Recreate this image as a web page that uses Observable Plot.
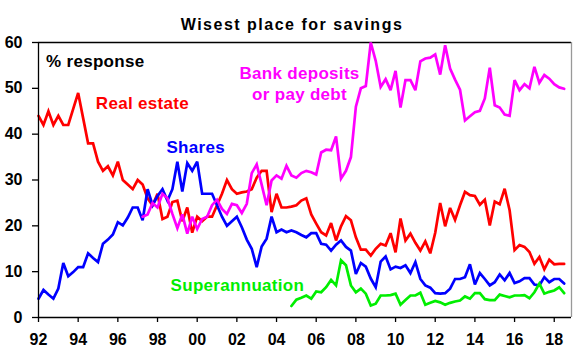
<!DOCTYPE html>
<html><head><meta charset="utf-8">
<script src="https://cdn.jsdelivr.net/npm/d3@7"></script>
<script src="https://cdn.jsdelivr.net/npm/@observablehq/plot@0.6"></script>
<style>body{margin:0;background:#fff}svg{display:block}
.ttl text{letter-spacing:1.5px}
.lbl text{letter-spacing:0.3px}</style>
</head><body><div id="chart"></div>
<script>
// quarterly survey readings, % response
const realEstateStart = 1992;
const realEstate = [
44,42,45,42, 44,42,42,45.5, 49,43.5,38,38, 34,32,33,31, 34,30,29,28,
30,29,26,24.5, 27,21.5,22,25.2, 25.5,21,24,18.5, 22,21,22,22,
24.5,27,30,28, 27,27.3,27.5,28, 30.5,32,32,23, 27,24,24,24.2,
24.5,25.5,26,22.5, 20.5,18.6,17.9,20.6, 16.8,19.9,22.1,21.2,
17.5,14.8,14.8,13.5, 15,16.1,15.7,18.4, 14.2,21.6,16.8,18.3,
16.3,14.6,16.6,14, 18.5,25,19.9,23.9, 21.3,24.5,27.4,26.7,
26.5,24.6,25.7,20.1, 25.3,24.7,28.1,23.4, 14.7,15.8,15.4,14.3,
11.7,13.2,10.5,12.6, 11.6,11.7,11.7];
const sharesStart = 1992;
const shares = [
4.1,6,5,4.1, 6.3,11.9,9,9.9, 11,11,14,13, 12.1,16.1,17,18.1, 20.8,20.1,21.8,24,
24,21.2,28,24.5, 26.5,28,25.5,28, 34,27.5,33.7,32, 34,27,27,27,
24.5,22,20,21, 22,19.7,17,15, 11,15.5,17.2,22, 18.6,19.2,18.6,19,
18.6,18,17.5,18.4, 18.4,16.1,15.9,14.6, 15.9,16.8,15.4,14.6,
9.5,11.9,11.1,8.5, 6.6,12.2,13.3,10.5, 11.1,10.8,11.4,9.7,
12.1,8.4,7.0,6.5, 5.3,5.2,5.3,6.3, 8.4,8.4,8.8,11.6,
7.2,9.7,8.4,7.0, 7.7,9.4,8.1,9.7, 7.5,7.9,8.6,8.6,
7.2,7.0,8.8,7.7, 8.4,8.4,7.4];
const bankStart = 1997.25;
const bank = [
22,22.5,25, 24,27,26,22.6, 19.5,22.5,18.3,22, 19.3,21.5,22,24.5,
25.7,23.7,22.6,24.8, 24.5,22.8,24.8,31.5, 33.4,29,24.5,29.9, 31,30.3,33.1,31,
30.5,31.5,32,31.7, 31.2,36,36.6,36.5, 39.5,30.3,32,35, 46,50,50.5,60,
56,50.3,52,49.6, 53.8,45.8,51.8,51.8, 49.6,55.9,56.5,56.7, 57.4,53,59.4,54.3,
51.9,49.7,43,43.9, 44.8,45.1,47.8,54.5, 46.3,45.8,44.3,44, 51.8,49.6,50.9,50,
54.7,51.2,52.9,52.1, 50.9,50.2,49.9];
const superStart = 2004.75;
const superann = [
2.5, 3.9,4.3,4.8,4.1, 5.7,5.5,6.6,8.2, 7.0,12.5,11.4,7.0, 5.5,6.3,5.2,2.6,
3.0,4.8,4.8,4.9, 5.2,2.8,3.8,4.8, 4.8,5.4,2.8,3.2, 3.6,3.3,2.8,3.2,
3.5,3.7,4.6,4.1, 5.3,5.3,4.0,3.8, 3.8,5.0,4.7,4.4, 4.8,4.8,4.9,4.2,
5.5,7.4,5.2,5.6, 5.9,6.6,5.3];

const xTicks = d3.range(1992, 2019, 2);
const yTicks = [0,10,20,30,40,50,60];

const seriesNames = ["Real estate","Shares","Bank deposits or pay debt","Superannuation"];
const seriesColors = ["#ff0000","#0000ff","#ff00ff","#00ee00"];

const labelText = ["% response","Real estate","Shares","Bank deposits","or pay debt","Superannuation"];
const labelYear = [1992.38, 1994.89, 1998.45, 2005.16, 2005.16, 1998.66];
const labelValue = [55.8, 46.75, 37.0, 53.2, 48.75, 7.0];
const labelColor = ["#000000","#ff0000","#0000ff","#ff00ff","#ff00ff","#00ee00"];
const labelAnchor = ["start","start","start","middle","middle","start"];

function toRows(name, start, vals){ return vals.map((v,i)=>({series:name, year:start+i*0.25, value:v})); }
const rows = [
  ...toRows(seriesNames[0], realEstateStart, realEstate),
  ...toRows(seriesNames[1], sharesStart, shares),
  ...toRows(seriesNames[2], bankStart, bank),
  ...toRows(seriesNames[3], superStart, superann)
];
const labels = labelText.map((t,i)=>({t, x:labelYear[i], y:labelValue[i], c:labelColor[i], a:labelAnchor[i]}));

const xMax = 2018.87;
const font = "Arial, 'Liberation Sans', sans-serif";

const chart = Plot.plot({
  width: 582, height: 352,
  marginLeft: 38, marginRight: 11, marginTop: 42, marginBottom: 35,
  style: {fontFamily: font, background: "#fff", overflow: "visible"},
  x: {domain: [1992, xMax]},
  y: {domain: [0, 60]},
  color: {domain: seriesNames, range: seriesColors},
  marks: [
    Plot.ruleY([60], {stroke: "#000", strokeWidth: 1.3}),
    Plot.ruleX([xMax], {stroke: "#999", strokeWidth: 1.3}),
    Plot.lineY(rows, {x: "year", y: "value", z: "series", stroke: "series", strokeWidth: 2.7, strokeLinejoin: "miter", strokeMiterlimit: 3}),
    Plot.axisX({ticks: xTicks, tickFormat: d => String(d % 100).padStart(2, "0"), tickSize: 5, tickPadding: 11, fontSize: 16, fontWeight: "bold", stroke: "#000", strokeWidth: 1.3, fill: "#000", label: null}),
    Plot.axisY({ticks: yTicks, tickSize: 6, tickPadding: 10, fontSize: 16, fontWeight: "bold", stroke: "#000", strokeWidth: 1.3, fill: "#000", label: null}),
    Plot.ruleX([1992], {stroke: "#000", strokeWidth: 1.3}),
    Plot.ruleY([0], {stroke: "#000", strokeWidth: 1.3}),
    ...labels.map(l => Plot.text([l], {x: "x", y: "y", text: "t", fill: l.c, textAnchor: l.a, fontSize: 17, fontWeight: "bold", className: "lbl"})),
    Plot.text(["Wisest place for savings"], {frameAnchor: "top", dy: -24, dx: -13, fontSize: 16, fontWeight: "bold", fill: "#000", className: "ttl"})
  ]
});
document.getElementById("chart").appendChild(chart);
</script></body></html>
